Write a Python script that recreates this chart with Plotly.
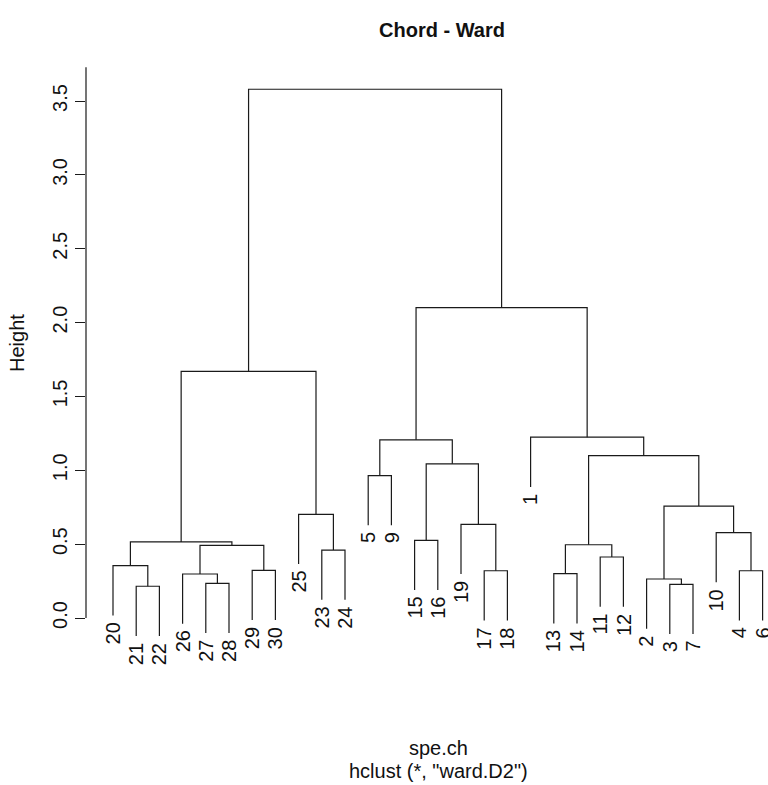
import plotly.graph_objects as go

# Leaf order along the x axis (site numbers)
leaf_order = [20, 21, 22, 26, 27, 28, 29, 30, 25, 23, 24, 5, 9, 15, 16, 19,
              17, 18, 1, 13, 14, 11, 12, 2, 3, 7, 10, 4, 6]

# hclust-style merge table: negative = single site, positive = earlier step
merge_a = [-21, -3, -27, -2, -26, -13, -17, -4, -29, -20, -11, -23, 5, 6,
           10, -15, -10, -19, -25, 4, -5, 16, 14, 21, -1, 15, 24, 26]
merge_b = [-22, -7, -28, 2, 3, -14, -18, -6, -30, 1, -12, -24, 9, 11,
           13, -16, 8, 7, 12, 17, -9, 18, 20, 22, 23, 19, 25, 27]
merge_height = [0.215, 0.228, 0.235, 0.264, 0.298, 0.300, 0.320, 0.320,
                0.323, 0.354, 0.413, 0.460, 0.492, 0.496, 0.515, 0.526,
                0.578, 0.634, 0.702, 0.758, 0.964, 1.044, 1.099, 1.206,
                1.224, 1.670, 2.101, 3.580]

y_ticks = [0.0, 0.5, 1.0, 1.5, 2.0, 2.5, 3.0, 3.5]
y_ticktext = ["0.0", "0.5", "1.0", "1.5", "2.0", "2.5", "3.0", "3.5"]

title_text = "Chord - Ward"
sub_text1 = "spe.ch"
sub_text2 = 'hclust (*, "ward.D2")'

# ---- geometry ------------------------------------------------------------
W, H = 768, 785
ML, MR, MT, MB = 86, 0, 60, 125
PW, PH = W - ML - MR, H - MT - MB

hang = 0.1 * (max(merge_height) - min(merge_height))
leaf_pos = {site: i + 1 for i, site in enumerate(leaf_order)}

node_x, node_y = {}, {}
xs, ys = [], []
leaf_end = {}


def child_xy(ref, parent_h):
    if ref < 0:
        site = -ref
        x = leaf_pos[site]
        y = parent_h - hang
        leaf_end[site] = y
        return x, y
    return node_x[ref], node_y[ref]


for step, (a, b, h) in enumerate(zip(merge_a, merge_b, merge_height), start=1):
    xa, ya = child_xy(a, h)
    xb, yb = child_xy(b, h)
    xs += [xa, xa, xb, xb, None]
    ys += [ya, h, h, yb, None]
    node_x[step] = (xa + xb) / 2
    node_y[step] = h

FONT = "Liberation Sans, Arial, Helvetica, sans-serif"

fig = go.Figure()
fig.add_trace(go.Scatter(x=xs, y=ys, mode="lines",
                         line=dict(color="#1a1a1a", width=1.2),
                         hoverinfo="skip", showlegend=False))

# pixel -> axis conversions
spacing = 23.2
x_left = 1 - (113 - ML) / spacing
x_right = x_left + PW / spacing
y_per_px = 1 / 147.7
y_bottom = -(MT + PH - 618) * y_per_px
y_top = y_bottom + PH * y_per_px

# the axis line runs up to the top of the usual 4% padded region
heights_lo = min(merge_height) - hang
usr_top = max(merge_height) + 0.04 * (max(merge_height) - heights_lo)


def px_x(px):
    return (px - ML) / PW


def px_y(py):
    return (MT + PH - py) / PH


annotations = []
for site in leaf_order:
    annotations.append(dict(
        x=leaf_pos[site], y=leaf_end[site], xref="x", yref="y",
        text=str(site), showarrow=False, textangle=-90,
        xanchor="center", yanchor="top", yshift=-5,
        font=dict(family=FONT, size=20, color="#111")))

annotations.append(dict(x=px_x(442), y=px_y(30), xref="paper", yref="paper",
                        text="<b>" + title_text + "</b>", showarrow=False,
                        xanchor="center", yanchor="middle",
                        font=dict(family=FONT, size=20, color="#111")))
annotations.append(dict(x=px_x(438), y=px_y(748), xref="paper", yref="paper",
                        text=sub_text1, showarrow=False,
                        xanchor="center", yanchor="middle",
                        font=dict(family=FONT, size=20, color="#111")))
annotations.append(dict(x=px_x(438), y=px_y(771), xref="paper", yref="paper",
                        text=sub_text2, showarrow=False,
                        xanchor="center", yanchor="middle",
                        font=dict(family=FONT, size=20, color="#111")))
annotations.append(dict(x=px_x(17), y=px_y(343), xref="paper", yref="paper",
                        text="Height", showarrow=False, textangle=-90,
                        xanchor="center", yanchor="middle",
                        font=dict(family=FONT, size=20, color="#111")))

fig.update_layout(
    width=W, height=H,
    margin=dict(l=ML, r=MR, t=MT, b=MB, pad=0),
    paper_bgcolor="white", plot_bgcolor="white",
    showlegend=False,
    annotations=annotations,
    shapes=[dict(type="line", xref="paper", yref="y", x0=0, x1=0,
                 y0=y_ticks[0], y1=usr_top,
                 line=dict(color="#1a1a1a", width=1.2))],
    xaxis=dict(range=[x_left, x_right], visible=False, fixedrange=True),
    yaxis=dict(range=[y_bottom, y_top], tickvals=y_ticks, ticktext=y_ticktext,
               ticks="outside", ticklen=10, tickwidth=1.2, tickcolor="#1a1a1a",
               tickangle=-90, showgrid=False, zeroline=False, showline=False,
               tickfont=dict(family=FONT, size=20, color="#111"),
               fixedrange=True),
)

fig.write_html("out.html")
